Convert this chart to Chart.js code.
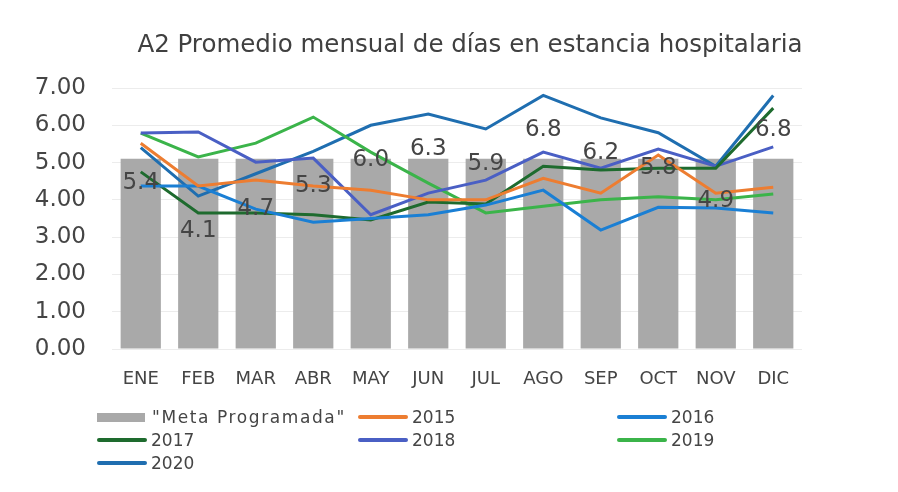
<!DOCTYPE html>
<html><head><meta charset="utf-8">
<script src="https://cdn.jsdelivr.net/npm/chart.js@4.4.0/dist/chart.umd.min.js"></script>
<style>
html,body{margin:0;padding:0;background:#fff;}
#wrap{position:relative;width:898px;height:492px;overflow:hidden;background:#fff;}
#title{position:absolute;left:0;width:940px;top:29px;text-align:center;font:24.5px 'DejaVu Sans',sans-serif;color:#404040;white-space:nowrap;}
canvas{position:absolute;left:0;top:0;}
#legend{position:absolute;left:0;top:0;width:898px;height:492px;pointer-events:none;font:17px 'DejaVu Sans',sans-serif;color:#454545;}
.li{position:absolute;display:flex;align-items:center;height:20px;white-space:nowrap;}
.sw{width:50px;height:4px;border-radius:2px;margin-right:4px;}
.box{width:48px;height:9px;margin-right:7px;}
</style></head>
<body><div id="wrap"><canvas id="c" width="898" height="492"></canvas><div id="title">A2 Promedio mensual de días en estancia hospitalaria</div><div id="legend"></div></div>
<script>
const categories = ['ENE','FEB','MAR','ABR','MAY','JUN','JUL','AGO','SEP','OCT','NOV','DIC'];
const yTicks = [0,1,2,3,4,5,6,7];
const metaProgramada = [5.1,5.1,5.1,5.1,5.1,5.1,5.1,5.1,5.1,5.1,5.1,5.1];
const s2015 = [5.52,4.37,4.53,4.37,4.26,4.00,4.00,4.58,4.18,5.20,4.18,4.34];
const s2016 = [4.37,4.37,3.75,3.40,3.50,3.60,3.86,4.26,3.19,3.80,3.78,3.65];
const s2017 = [4.75,3.65,3.65,3.60,3.46,3.94,3.89,4.90,4.80,4.85,4.85,6.46];
const s2018 = [5.79,5.82,5.01,5.12,3.60,4.18,4.53,5.28,4.85,5.36,4.90,5.42];
const s2019 = [5.79,5.15,5.52,6.22,5.28,4.45,3.65,3.83,4.00,4.08,4.00,4.16];
const s2020 = [5.4,4.1,4.7,5.3,6.0,6.3,5.9,6.8,6.2,5.8,4.9,6.8];

const FONT = "'DejaVu Sans', sans-serif";
const TXT = '#454545';

const line = (label, data, color) => ({type:'line', label, data, borderColor:color, backgroundColor:color,
  borderWidth:3, pointRadius:0, tension:0, fill:false, order:0});

const datasets = [
  {type:'bar', label:'"Meta Programada"', data:metaProgramada, backgroundColor:'#a9a9a9', borderWidth:0,
   barPercentage:1, categoryPercentage:0.7, order:1},
  line('2015', s2015, '#ed7d31'),
  line('2016', s2016, '#1a7fd4'),
  line('2017', s2017, '#1e6b2e'),
  line('2018', s2018, '#4a5fc4'),
  line('2019', s2019, '#3bb44a'),
  line('2020', s2020, '#1f6eb0')
];

const valueLabels = {
  id:'valueLabels',
  afterDatasetsDraw(chart){
    const i = chart.data.datasets.findIndex(d => d.label === '2020');
    const m = chart.getDatasetMeta(i);
    const ctx = chart.ctx;
    ctx.save();
    ctx.font = '23px ' + FONT;
    ctx.fillStyle = TXT;
    ctx.textAlign = 'center';
    ctx.textBaseline = 'middle';
    m.data.forEach((p, k) => ctx.fillText(s2020[k].toFixed(1), p.x, p.y + 35));
    ctx.restore();
  }
};

const pad = {left:0, top:88, right:96, bottom:100};
const chart = new Chart(document.getElementById('c'), {
  data:{labels:categories, datasets},
  options:{
    responsive:false, animation:false,
    layout:{padding:pad},
    plugins:{legend:{display:false}, title:{display:false}, tooltip:{enabled:false}},
    scales:{
      x:{grid:{display:false}, border:{display:false},
         ticks:{color:TXT, font:{family:FONT, size:18}, padding:12, maxRotation:0}},
      y:{min:0, max:7, grid:{color:'#ececec', drawTicks:false}, border:{display:false},
         afterBuildTicks(s){ s.ticks = yTicks.map(v => ({value:v})); },
         ticks:{color:TXT, font:{family:FONT, size:23}, padding:26, callback:v => Number(v).toFixed(2)}}
    }
  },
  plugins:[valueLabels]
});

// fit plot area to the reference frame
const target = {left:112, top:88, right:802, bottom:349};
for (let it = 0; it < 3; it++) {
  const ca = chart.chartArea;
  pad.left += target.left - ca.left;
  pad.top += target.top - ca.top;
  pad.right += ca.right - target.right;
  pad.bottom += ca.bottom - target.bottom;
  chart.options.layout.padding = {...pad};
  chart.update('none');
}

// legend
const cols = [97, 358, 617], rows = [417, 440, 463];
const lg = document.getElementById('legend');
chart.data.datasets.forEach((d, k) => {
  const el = document.createElement('div');
  el.className = 'li';
  el.style.left = cols[k % 3] + 'px';
  el.style.top = (rows[Math.floor(k / 3)] - 10) + 'px';
  const sw = document.createElement('div');
  sw.className = d.type === 'bar' ? 'box' : 'sw';
  sw.style.background = d.type === 'bar' ? d.backgroundColor : d.borderColor;
  const tx = document.createElement('span');
  tx.textContent = d.label;
  if (d.type === 'bar') tx.style.letterSpacing = '1.6px';
  el.appendChild(sw); el.appendChild(tx);
  lg.appendChild(el);
});
</script>
</body></html>
